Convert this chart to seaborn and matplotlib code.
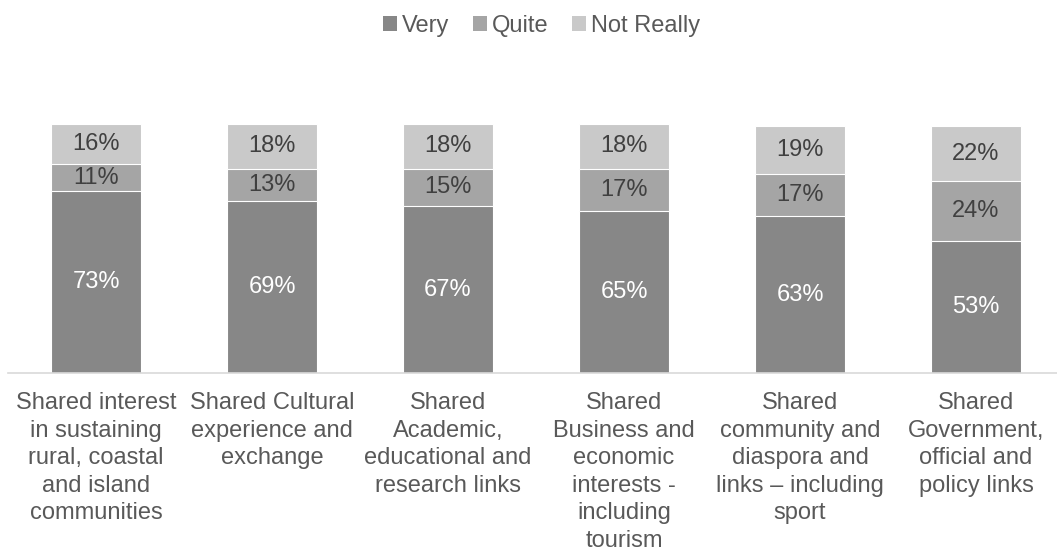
import matplotlib
matplotlib.use("Agg")
import matplotlib.pyplot as plt
from matplotlib.patches import Patch
import numpy as np
import pandas as pd
import seaborn as sns

# Survey results: share of respondents per importance level
categories = [
    "Shared interest\nin sustaining\nrural, coastal\nand island\ncommunities",
    "Shared Cultural\nexperience and\nexchange",
    "Shared\nAcademic,\neducational and\nresearch links",
    "Shared\nBusiness and\neconomic\ninterests -\nincluding\ntourism",
    "Shared\ncommunity and\ndiaspora and\nlinks \u2013 including\nsport",
    "Shared\nGovernment,\nofficial and\npolicy links",
]
very = [73, 69, 67, 65, 63, 53]
quite = [11, 13, 15, 17, 17, 24]
not_really = [16, 18, 18, 18, 19, 22]

series_names = ["Very", "Quite", "Not Really"]
colors = ["#878787", "#a5a5a5", "#c9c9c9"]
label_colors = ["white", "#404040", "#404040"]

sns.set_style("white")
plt.rcParams["font.family"] = ["Liberation Sans", "DejaVu Sans"]

fig = plt.figure(figsize=(10.57, 5.52), dpi=100)
ax = fig.add_axes([8 / 1057, (552 - 373) / 552, 1049 / 1057, (373 - 124) / 552])

x_idx = list(range(len(categories)))
layers = np.array([very, quite, not_really], dtype=float)
cum = np.cumsum(layers, axis=0)

# Draw stacked bars back to front using cumulative totals
for k in range(len(series_names) - 1, -1, -1):
    df = pd.DataFrame({"x": x_idx, "y": cum[k]})
    sns.barplot(data=df, x="x", y="y", color=colors[k], width=0.51,
                edgecolor="white", linewidth=0.8, saturation=1, ax=ax)

# Value labels centred inside each segment
for k in range(len(series_names)):
    bottoms = cum[k] - layers[k]
    for i in x_idx:
        ax.text(i, bottoms[i] + layers[k][i] / 2, f"{int(layers[k][i])}%",
                ha="center", va="center", fontsize=17, color=label_colors[k])

ax.set_xlim(-0.5, 5.46)
ax.set_ylim(0, 100)
ax.set_xlabel("")
ax.set_ylabel("")
ax.set_yticks([])
ax.set_xticks(x_idx)
ax.set_xticklabels(categories, fontsize=17, color="#595959", linespacing=1.32)
ax.tick_params(axis="x", length=0, pad=14)
for side in ["top", "left", "right"]:
    ax.spines[side].set_visible(False)
ax.spines["bottom"].set_color("#d9d9d9")
ax.spines["bottom"].set_linewidth(1.2)

handles = [Patch(facecolor=c, edgecolor="none") for c in colors]
leg = fig.legend(handles, series_names, loc="center", bbox_to_anchor=(0.512, 0.953),
                 ncol=3, frameon=False, fontsize=17, handlelength=0.6, handleheight=0.6,
                 handletextpad=0.2, columnspacing=1.0)
for t in leg.get_texts():
    t.set_color("#595959")

fig.savefig("out.png", dpi=100)
